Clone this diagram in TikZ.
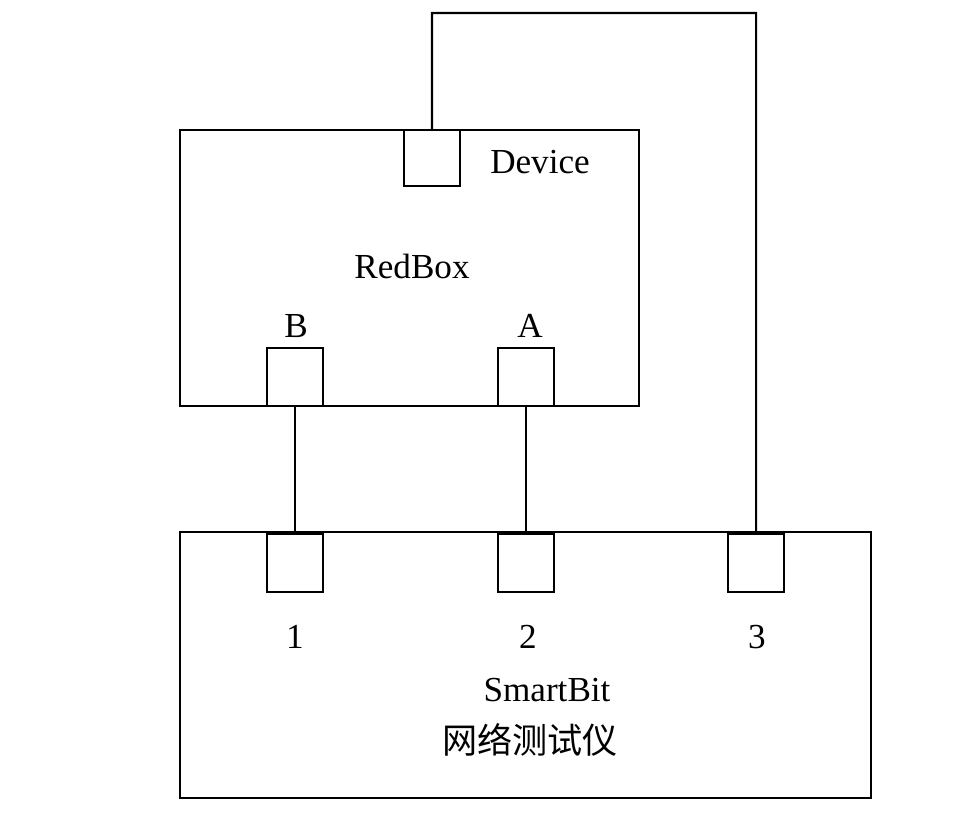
\documentclass[tikz,border=0pt]{standalone}
\usepackage{fontspec}
\setmainfont{Liberation Serif}
\newfontfamily\cjk{Noto Sans CJK SC}
\begin{document}
\begin{tikzpicture}[x=0.02cm, y=-0.02cm, line width=1.2pt,
	box/.style={draw, inner sep=0pt, anchor=north west},
	port/.style={draw, inner sep=0pt, minimum width=1.12cm, minimum height=1.16cm, anchor=north west},
	label/.style={font=\fontsize{20}{24}\selectfont}]
	\useasboundingbox (0,0) rectangle (954,814);
	\node (redbox)   [box, minimum width=9.18cm, minimum height=5.52cm] at (179,129) {};
	\node (smartbit) [box, minimum width=13.82cm, minimum height=5.32cm] at (179,531) {};
	\node (device)   [port, minimum height=1.12cm] at (403,129) {};
	\node (portb)    [port] at (266,347) {};
	\node (porta)    [port] at (497,347) {};
	\node (port1)    [port] at (266,533) {};
	\node (port2)    [port] at (497,533) {};
	\node (port3)    [port] at (727,533) {};
	\node (devtxt) [label] at (540,162) {Device};
	\node (redtxt) [label] at (412,266) {RedBox};
	\node (btxt)   [label] at (296,326) {B};
	\node (atxt)   [label] at (530,326) {A};
	\node (txt1)   [label] at (295,637) {1};
	\node (txt2)   [label] at (528,637) {2};
	\node (txt3)   [label] at (757,637) {3};
	\node (sbtxt)  [label] at (547,690) {SmartBit};
	\node (cntxt)  [label, font=\cjk\fontsize{20}{24}\selectfont] at (530,740) {网络测试仪};
	\coordinate (top) at (432,13);
	\draw (portb.south) -- (port1.north);
	\draw (porta.south) -- (port2.north);
	\draw (device.north) -- (top) -| (port3.north);
\end{tikzpicture}
\end{document}
